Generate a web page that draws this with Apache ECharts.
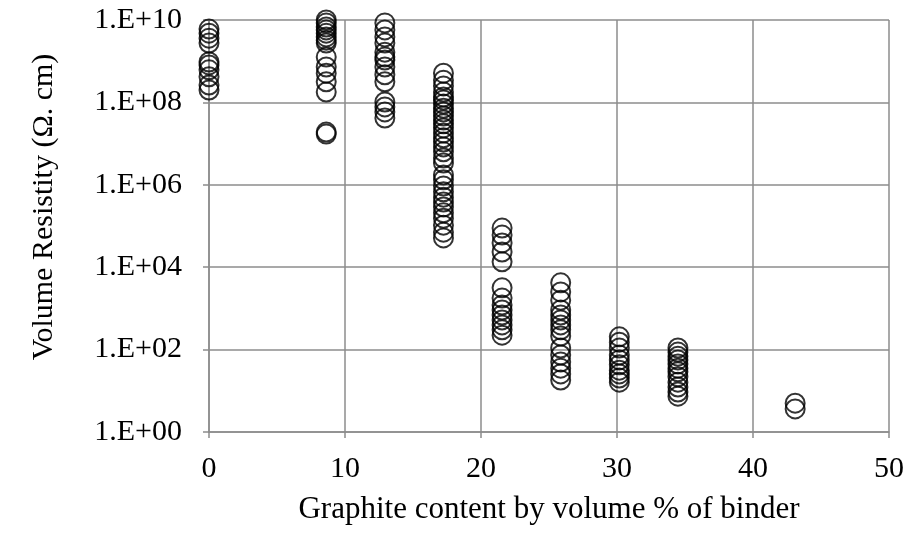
<!DOCTYPE html>
<html>
<head>
<meta charset="utf-8">
<title>Volume resistivity</title>
<script src="https://cdn.jsdelivr.net/npm/echarts@6/dist/echarts.min.js"></script>
<style>
  html, body { margin: 0; padding: 0; background: #fff; }
  #main { width: 909px; height: 535px; }
</style>
</head>
<body>
<div id="main"></div>
<script type="text/javascript">
// graphite content (vol % of binder) for each group of specimens
var contents = [0, 8.62, 12.93, 17.24, 21.55, 25.86, 30.17, 34.48, 43.1];

// measured resistivity per group, read as log10(ohm.cm)
var logRho = [
  [9.78, 9.68, 9.56, 9.44, 8.98, 8.91, 8.79, 8.62, 8.42, 8.30],
  [10.0, 9.93, 9.83, 9.76, 9.68, 9.59, 9.51, 9.44, 9.10, 8.86, 8.71, 8.50, 8.25, 7.28, 7.23],
  [9.93, 9.76, 9.59, 9.44, 9.22, 9.10, 9.03, 8.86, 8.67, 8.50, 8.01, 7.89, 7.77, 7.62],
  [8.71, 8.54, 8.40, 8.25, 8.13, 8.06, 7.96, 7.86, 7.77, 7.67, 7.57, 7.48, 7.38, 7.26, 7.14, 7.04,
   6.92, 6.80, 6.65, 6.53, 6.24, 6.12, 5.97, 5.83, 5.70, 5.58, 5.46, 5.32, 5.19, 5.02, 4.85, 4.71],
  [4.95, 4.78, 4.59, 4.37, 4.13, 3.50, 3.25, 3.08, 2.96, 2.84, 2.72, 2.60, 2.48, 2.35],
  [3.62, 3.40, 3.20, 2.96, 2.84, 2.72, 2.60, 2.48, 2.33, 2.04, 1.87, 1.70, 1.55, 1.41, 1.26],
  [2.31, 2.18, 2.04, 1.87, 1.75, 1.63, 1.50, 1.41, 1.31, 1.21],
  [2.04, 1.94, 1.84, 1.75, 1.65, 1.55, 1.46, 1.34, 1.21, 1.09, 0.97, 0.87],
  [0.70, 0.56]
];

var points = [];
for (var i = 0; i < contents.length; i++) {
  for (var j = 0; j < logRho[i].length; j++) {
    points.push([contents[i], Math.pow(10, logRho[i][j])]);
  }
}

var myChart = echarts.init(document.getElementById('main'));
var font = '"Liberation Serif", "Times New Roman", serif';
var gridLine = { lineStyle: { color: '#8c8c8c', width: 1.5 } };

var option = {
  animation: false,
  grid: { left: 209, right: 20, top: 20, bottom: 103 },
  xAxis: {
    type: 'value',
    min: 0,
    max: 50,
    interval: 10,
    name: 'Graphite content by volume % of binder',
    nameLocation: 'middle',
    nameGap: 62,
    nameMoveOverlap: false,
    nameTextStyle: { fontFamily: font, fontSize: 31, color: '#000' },
    axisLine: { show: true, onZero: false, lineStyle: { color: '#8c8c8c', width: 1.5 } },
    axisTick: { show: true, length: 6, lineStyle: { color: '#8c8c8c', width: 1.5 } },
    axisLabel: { fontFamily: font, fontSize: 30, color: '#000', margin: 22 },
    splitLine: gridLine
  },
  yAxis: {
    type: 'log',
    logBase: 10,
    min: 1,
    max: 1e10,
    interval: 2,
    name: 'Volume Resistity (\u03A9. cm)',
    nameLocation: 'middle',
    nameGap: 150,
    nameMoveOverlap: false,
    // left padding nudges the rotated title upward, as in the original
    nameTextStyle: { fontFamily: font, fontSize: 30, color: '#000', padding: [0, 0, 0, 38] },
    axisLine: { show: true, lineStyle: { color: '#8c8c8c', width: 1.5 } },
    axisTick: { show: true, length: 6, lineStyle: { color: '#8c8c8c', width: 1.5 } },
    axisLabel: {
      fontFamily: font, fontSize: 30, color: '#000', margin: 27,
      formatter: function (v) {
        var e = Math.round(Math.log10(v));
        return '1.E+' + (e < 10 ? '0' + e : e);
      }
    },
    splitLine: gridLine
  },
  series: [{
    type: 'scatter',
    data: points,
    symbol: 'circle',
    symbolSize: 19,
    itemStyle: { color: 'rgba(0,0,0,0)', borderColor: '#000', borderWidth: 2 }
  }]
};
myChart.setOption(option);
</script>
</body>
</html>
